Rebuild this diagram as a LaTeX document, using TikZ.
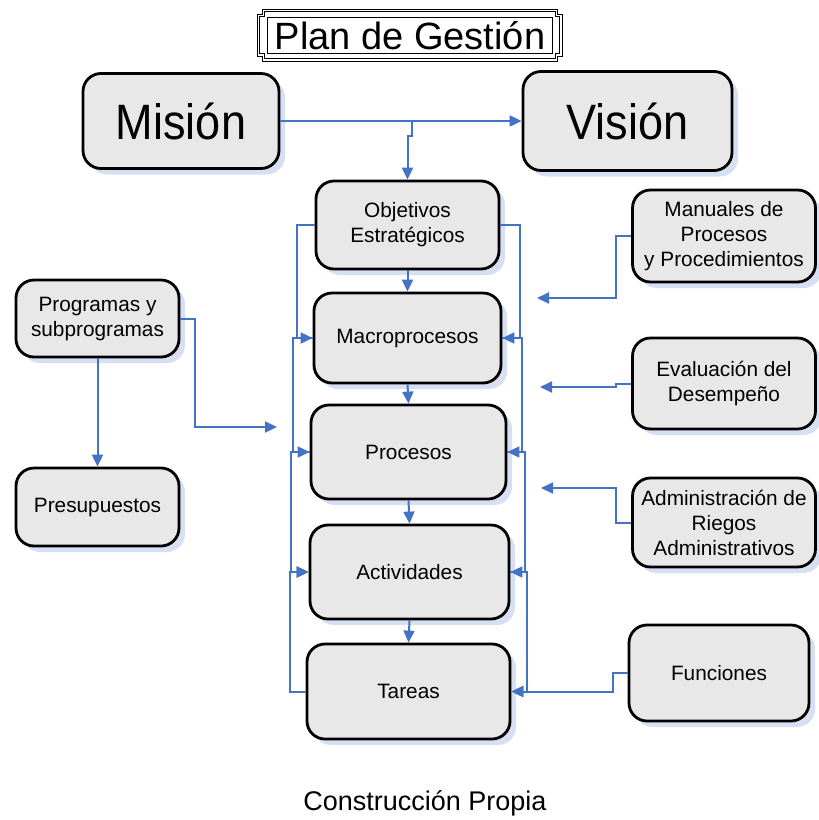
\documentclass[tikz,border=0pt]{standalone}
\usepackage{fontspec}
\setmainfont{Liberation Sans}
\usetikzlibrary{shadows,arrows.meta,calc}
\definecolor{conn}{RGB}{68,114,196}
\definecolor{boxfill}{RGB}{232,232,232}
\definecolor{shadowblue}{RGB}{214,224,242}
\tikzset{
  box/.style={rectangle, rounded corners=18pt, draw=black, line width=2.8pt, fill=boxfill,
    align=center, inner sep=2pt,
    font=\fontsize{20.8}{25}\selectfont,
    drop shadow={shadow xshift=6pt, shadow yshift=-6pt, fill=shadowblue, opacity=1}},
  bigbox/.style={box, font=\fontsize{46}{50}\selectfont},
  link/.style={draw=conn, line width=2pt, -{Triangle[length=12pt,width=11pt]}},
}
\begin{document}
\begin{tikzpicture}[x=1pt,y=-1pt]
\useasboundingbox (0,0) rectangle (819,820);
% title frame
\draw[line width=0.9pt] (262,9) -- (557,9) -- (557,14) -- (562,14) -- (562,56) -- (557,56) -- (557,61) -- (262,61) -- (262,56) -- (257,56) -- (257,14) -- (262,14) -- cycle;
\draw[line width=0.9pt] (264,11.5) -- (555,11.5) -- (555,16.5) -- (559.5,16.5) -- (559.5,53.5) -- (555,53.5) -- (555,58.5) -- (264,58.5) -- (264,53.5) -- (259.5,53.5) -- (259.5,16.5) -- (264,16.5) -- cycle;
\draw[line width=0.9pt] (267,17) rectangle (552,53);
\node (title) at (410,36) {\fontsize{38}{40}\selectfont Plan de Gestión};

% boxes
\node[bigbox, minimum width=196pt, minimum height=95pt] (mision) at (181,121) {\scalebox{0.98}[1.08]{Misión}};
\node[bigbox, minimum width=209pt, minimum height=99pt] (vision) at (627.5,121) {\scalebox{0.98}[1.08]{Visión}};
\node[box, minimum width=183pt, minimum height=88pt] (obj) at (407.5,225) {Objetivos\\Estratégicos};
\node[box, minimum width=187pt, minimum height=90pt] (macro) at (407.5,338) {Macroprocesos};
\node[box, minimum width=195pt, minimum height=94pt] (proc) at (408.5,452) {Procesos};
\node[box, minimum width=199pt, minimum height=94pt] (act) at (409.5,572) {Actividades};
\node[box, minimum width=203pt, minimum height=95pt] (tar) at (408.5,691.5) {Tareas};
\node[box, minimum width=163pt, minimum height=77pt] (prog) at (97.5,318.5) {Programas y\\subprogramas};
\node[box, minimum width=163pt, minimum height=78pt] (pres) at (97.5,507) {Presupuestos};
\node[box, minimum width=183pt, minimum height=92pt] (man) at (724,236) {Manuales de\\Procesos\\y Procedimientos};
\node[box, minimum width=183pt, minimum height=91pt] (eval) at (724,383.5) {Evaluación del\\Desempeño};
\node[box, minimum width=183pt, minimum height=89pt] (adm) at (724,522.5) {Administración de\\Riegos\\Administrativos};
\node[box, minimum width=180pt, minimum height=96pt] (fun) at (719,673) {Funciones};

\node (cap) at (425,803) {\fontsize{27}{30}\selectfont Construcción Propia};

% free ends
\coordinate (b1) at (412,121);
\coordinate (m1) at (537,298);
\coordinate (e1) at (540,387);
\coordinate (a1) at (541,488);
\coordinate (p1) at (277,427);

% top connectors
\draw[link] (mision.east) -- (mision.east -| vision.west);
\draw[link] (b1) -- ++(0,15) -| (obj.north);

% chain
\draw[link] (obj.south) -- (macro.north);
\draw[link] (macro.south) -- (proc.north);
\draw[link] (proc.south) -- (act.north);
\draw[link] (act.south) -- (tar.north);

% left feedback
\draw[link] (obj.west) -- ++(-18,0) |- (macro.west);
\draw[link] (macro.west) -- ++(-20,0) |- (proc.west);
\draw[link] (proc.west) -- ++(-19,0) |- (act.west);
\draw[link] (tar.west) -- ++(-16,0) |- (act.west);

% right feedback
\draw[link] (obj.east) -- ++(20,0) |- (macro.east);
\draw[link] (macro.east) -- ++(20,0) |- (proc.east);
\draw[link] (proc.east) -- ++(18,0) |- (act.east);
\draw[link] (act.east) -- ++(17,0) |- (tar.east);
\draw[link] (fun.west) -- ++(-15,0) |- (tar.east);

% side inputs
\draw[link] (man.west) -- ++(-15,0) |- (m1);
\draw[link] (eval.west) -- ++(-15,0) |- (e1);
\draw[link] (adm.west) -- ++(-15,0) |- (a1);
\draw[link] (prog.east) -- ++(15,0) |- (p1);
\draw[link] (prog.south) -- (pres.north);
\end{tikzpicture}
\end{document}
